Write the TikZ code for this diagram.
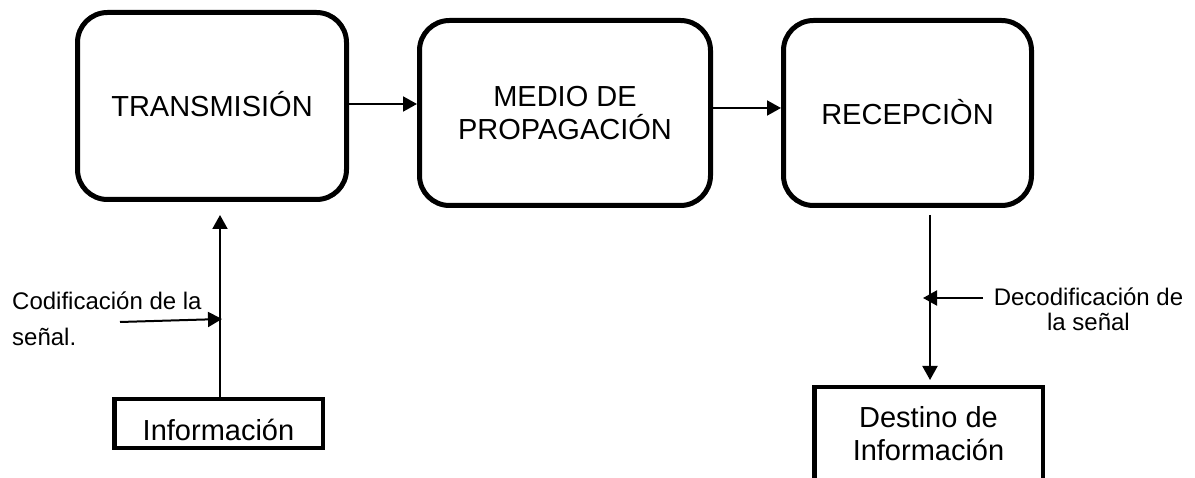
\documentclass[tikz,border=0pt]{standalone}
\usepackage{fontspec}
\setmainfont{Liberation Sans}
\usetikzlibrary{arrows.meta}
\begin{document}
\begin{tikzpicture}[x=1pt,y=-1pt,
  bigbox/.style={draw, line width=5pt, rounded corners=30pt, inner sep=0pt, align=center, font=\fontsize{29}{33}\selectfont},
  sqbox/.style={draw, line width=4.5pt, inner sep=0pt, align=center, font=\fontsize{29}{33}\selectfont},
  lbl/.style={inner sep=0pt},
  arr/.style={line width=2pt, -{Triangle[length=14pt,width=15pt]}}]
\path[fill=white] (0,0) rectangle (1195,478);
\useasboundingbox (0,0) rectangle (1195,478);

\node[bigbox, minimum width=269pt, minimum height=187pt, text height=22pt, text depth=0pt] (tx) at (212,106) {TRANSMISIÓN};
\node[bigbox, minimum width=291pt, minimum height=185pt] (md) at (565,113) {MEDIO DE\\PROPAGACIÓN};
\node[bigbox, minimum width=248pt, minimum height=185pt, text height=24pt, text depth=0pt] (rc) at (907.5,113) {RECEPCIÒN};
\node[sqbox, minimum width=208.5pt, minimum height=48.5pt, text height=33pt, text depth=0pt] (info) at (218.5,423.5) {Información};
\node[sqbox, minimum width=228.5pt, minimum height=93.5pt] (dest) at (928.5,434) {Destino de\\Información};

\node[lbl, anchor=north west, align=left, font=\fontsize{24}{36}\selectfont] (cod) at (12,292) {Codificación de la\\señal.};
\node[lbl, anchor=north, align=center, font=\fontsize{24}{25}\selectfont] (dec) at (1088.5,288) {Decodificación de\\la señal};

\draw[arr] (tx.east |- 0,104) -- (md.west |- 0,104);
\draw[arr] (md.east |- 0,108) -- (rc.west |- 0,108);
\draw[arr, shorten >=13pt] (info.north -| 220,0) -- (tx.south -| 220,0);
\coordinate (cs) at (120,322);
\coordinate (ce) at (222,319);
\draw[arr] (cs) -- (ce);
\draw[arr, shorten <=7pt, shorten >=5pt] (rc.south -| 930,0) -- (dest.north -| 930,0);
\coordinate (ds) at (983,298);
\coordinate (de) at (923,298);
\draw[arr] (ds) -- (de);
\end{tikzpicture}
\end{document}
